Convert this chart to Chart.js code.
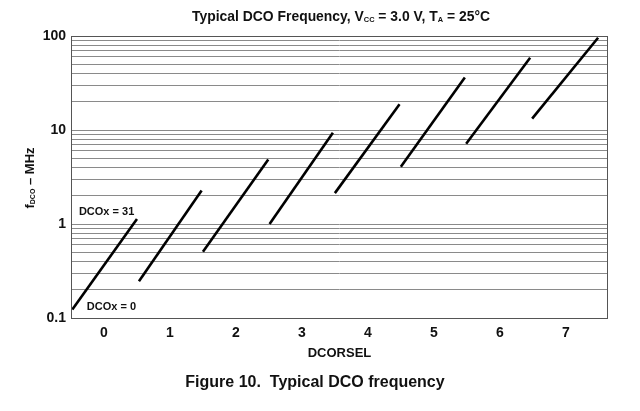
<!DOCTYPE html>
<html>
<head>
<meta charset="utf-8">
<script src="https://cdn.jsdelivr.net/npm/chart.js@4/dist/chart.umd.min.js"></script>
<style>
  html, body { margin: 0; padding: 0; background: #fff; }
  #c { display: block; }
</style>
</head>
<body>
<canvas id="c" width="640" height="411"></canvas>
<script>
'use strict';

// DCORSEL ranges, each line goes DCOx = 0 -> DCOx = 31
let dcorsel = [0, 1, 2, 3, 4, 5, 6, 7];
let xStart = [-0.48, 0.53, 1.50, 2.51, 3.50, 4.50, 5.49, 6.49];
let xEnd = [0.50, 1.48, 2.49, 3.47, 4.48, 5.47, 6.46, 7.49];
let fMin = [0.123, 0.246, 0.506, 1.0, 2.13, 4.06, 7.14, 13.2];   // MHz at DCOx = 0
let fMax = [1.13, 2.27, 4.86, 9.36, 18.8, 36.1, 58.7, 95.9];     // MHz at DCOx = 31

let yTickLabels = ['0.1', '1', '10', '100'];

let FONT = '"Liberation Sans", Arial, Helvetica, sans-serif';

// grid lines on every 1..9 step of each decade
let yGridValues = [];
for (let d = 0; d < yTickLabels.length - 1; d++) {
    let base = Number(yTickLabels[d]);
    for (let m = 1; m < 10; m++) {
        yGridValues.push(+(base * m).toPrecision(3));
    }
}
yGridValues.push(Number(yTickLabels[yTickLabels.length - 1]));

let datasets = [];
for (let i = 0; i < dcorsel.length; i++) {
    datasets.push({
        label: 'DCORSEL ' + dcorsel[i],
        data: [{x: xStart[i], y: fMin[i]}, {x: xEnd[i], y: fMax[i]}],
        showLine: true,
        borderColor: '#000',
        borderWidth: 2.6,
        pointRadius: 0,
        borderCapStyle: 'butt'
    });
}

function drawRich(ctx, parts, cx, cy, fitWidth) {
    let total = 0;
    parts.forEach(p => {
        ctx.font = p.font;
        p.w = ctx.measureText(p.t).width;
        total += p.w;
    });
    let sx = fitWidth ? fitWidth / total : 1;
    ctx.save();
    ctx.translate(cx, cy);
    ctx.scale(sx, 1);
    let x = -total / 2;
    ctx.textBaseline = 'middle';
    ctx.textAlign = 'left';
    parts.forEach(p => {
        ctx.font = p.font;
        ctx.fillText(p.t, x, p.dy || 0);
        x += p.w;
    });
    ctx.restore();
}

let textPlugin = {
    id: 'texts',
    afterDraw(chart) {
        let ctx = chart.ctx;
        let a = chart.chartArea;
        let xs = chart.scales.x;
        let ys = chart.scales.y;
        ctx.save();

        // frame round the plot
        ctx.strokeStyle = '#555';
        ctx.lineWidth = 1;
        ctx.strokeRect(Math.round(a.left) + 0.5, Math.round(a.top) + 0.5,
            Math.round(a.right - a.left) - 1, Math.round(a.bottom - a.top));

        ctx.fillStyle = '#111';

        // title
        let big = 'bold 15px "Liberation Sans Narrow", ' + FONT;
        let small = 'bold 8px "Liberation Sans Narrow", ' + FONT;
        drawRich(ctx, [
            {t: 'Typical DCO Frequency, V', font: big},
            {t: 'CC', font: small, dy: 3},
            {t: ' = 3.0 V, T', font: big},
            {t: 'A', font: small, dy: 3},
            {t: ' = 25°C', font: big}
        ], 341, 17, 298);

        // x axis title
        ctx.font = 'bold 13px ' + FONT;
        ctx.textAlign = 'center';
        ctx.textBaseline = 'middle';
        ctx.fillText('DCORSEL', (a.left + a.right) / 2, 353);

        // footer
        ctx.font = 'bold 16px ' + FONT;
        ctx.fillText('Figure 10.  Typical DCO frequency', 315, 383);

        // y axis title, rotated
        ctx.save();
        ctx.translate(30, 178);
        ctx.rotate(-Math.PI / 2);
        drawRich(ctx, [
            {t: 'f', font: 'bold 13px ' + FONT},
            {t: 'DCO', font: 'bold 7px ' + FONT, dy: 3},
            {t: ' – MHz', font: 'bold 13px ' + FONT}
        ], 0, 0);
        ctx.restore();

        // DCOx notes
        ctx.font = 'bold 11px ' + FONT;
        ctx.textAlign = 'left';
        ctx.fillText('DCOx = 31', xs.getPixelForValue(-0.38), ys.getPixelForValue(1.35));
        ctx.fillText('DCOx = 0', xs.getPixelForValue(-0.26), ys.getPixelForValue(0.13));

        ctx.restore();
    }
};

let ctx = document.getElementById('c').getContext('2d');
let chart = new Chart(ctx, {
    type: 'scatter',
    data: { datasets: datasets },
    options: {
        responsive: false,
        animation: false,
        devicePixelRatio: 1,
        layout: { padding: { top: 36, right: 32, bottom: 0, left: 0 } },
        plugins: {
            legend: { display: false },
            title: { display: false },
            tooltip: { enabled: false }
        },
        scales: {
            x: {
                type: 'linear',
                min: -0.5,
                max: 7.64,
                afterFit(s) { s.height = 93; },
                afterBuildTicks(s) { s.ticks = dcorsel.map(v => ({value: v})); },
                grid: { display: false, drawTicks: false },
                border: { display: false },
                ticks: {
                    padding: 7,
                    color: '#111',
                    font: { family: FONT, size: 14, weight: 'bold' },
                    callback: v => String(v)
                }
            },
            y: {
                type: 'logarithmic',
                min: 0.1,
                max: 100,
                afterFit(s) { s.width = 71; },
                afterBuildTicks(s) { s.ticks = yGridValues.map(v => ({value: v})); },
                grid: { color: '#8a8a8a', lineWidth: 1, drawTicks: false },
                border: { display: false },
                ticks: {
                    padding: 5,
                    autoSkip: false,
                    color: '#111',
                    font: { family: FONT, size: 14, weight: 'bold' },
                    callback: v => {
                        let s = String(+v.toPrecision(3));
                        return yTickLabels.indexOf(s) >= 0 ? s : '';
                    }
                }
            }
        }
    },
    plugins: [textPlugin]
});
</script>
</body>
</html>
